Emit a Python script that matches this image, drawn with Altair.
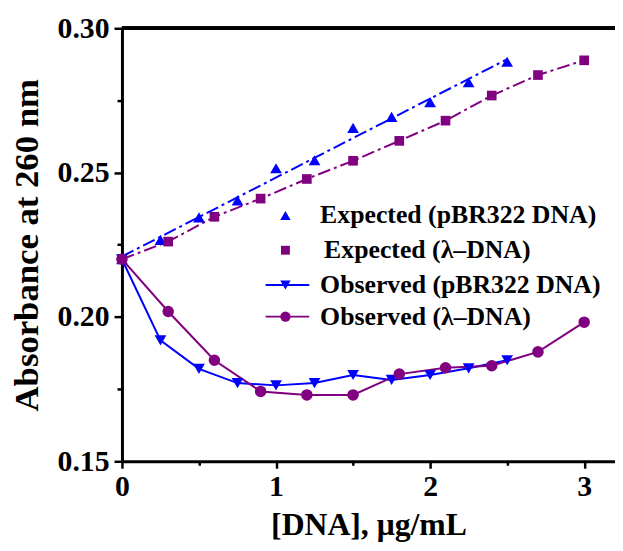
import altair as alt
import pandas as pd

# ---- data ----
exp_pbr_x = [0, 0.25, 0.5, 0.75, 1.0, 1.25, 1.5, 1.75, 2.0, 2.25, 2.5]
exp_pbr_y = [0.220, 0.2267, 0.2345, 0.2404, 0.2515, 0.2543, 0.2655, 0.2693, 0.2744, 0.2813, 0.2884]
exp_lam_x = [0, 0.3, 0.6, 0.9, 1.2, 1.5, 1.8, 2.1, 2.4, 2.7, 3.0]
exp_lam_y = [0.220, 0.2261, 0.2347, 0.2410, 0.2478, 0.2541, 0.2610, 0.2680, 0.2767, 0.2838, 0.2889]
obs_pbr_x = [0, 0.25, 0.5, 0.75, 1.0, 1.25, 1.5, 1.75, 2.0, 2.25, 2.5]
obs_pbr_y = [0.220, 0.1919, 0.1820, 0.1771, 0.1763, 0.1771, 0.1799, 0.1782, 0.1799, 0.1822, 0.1850]
obs_lam_x = [0, 0.3, 0.6, 0.9, 1.2, 1.5, 1.8, 2.1, 2.4, 2.7, 3.0]
obs_lam_y = [0.220, 0.2019, 0.1850, 0.1742, 0.1730, 0.1730, 0.1802, 0.1824, 0.1831, 0.1879, 0.1982]

legend_labels = ["Expected (pBR322 DNA)", "Expected (\u03bb\u2013DNA)",
                 "Observed (pBR322 DNA)", "Observed (\u03bb\u2013DNA)"]
x_ticks = [0, 0.5, 1, 1.5, 2, 2.5, 3]
y_ticks = [0.15, 0.175, 0.2, 0.225, 0.25, 0.275, 0.3]

BLUE = "#0000ff"
PURPLE = "#800080"
FONT = "Liberation Serif"
W, H = 497.6, 437
DASH = [13, 4, 3, 4]

df_ep = pd.DataFrame({"x": exp_pbr_x, "y": exp_pbr_y})
df_el = pd.DataFrame({"x": exp_lam_x, "y": exp_lam_y})
df_op = pd.DataFrame({"x": obs_pbr_x, "y": obs_pbr_y})
df_ol = pd.DataFrame({"x": obs_lam_x, "y": obs_lam_y})

xaxis = alt.Axis(
    values=x_ticks, title="[DNA], \u03bcg/mL",
    labelExpr="abs(datum.value - round(datum.value)) < 0.001 ? format(datum.value, 'd') : ''",
    tickSize={"condition": {"test": "abs(datum.value - round(datum.value)) < 0.001", "value": 7}, "value": 4},
    labelFlush=False, labelOverlap=False, grid=False,
    labelFontSize=30, titleFontSize=32, labelPadding=4, titlePadding=8,
)
yaxis = alt.Axis(
    values=y_ticks, title="Absorbance at 260 nm",
    labelExpr="abs(datum.value*20 - round(datum.value*20)) < 0.001 ? format(datum.value, '.2f') : ''",
    tickSize={"condition": {"test": "abs(datum.value*20 - round(datum.value*20)) < 0.001", "value": 8}, "value": 5},
    labelFlush=False, labelOverlap=False, grid=False,
    labelFontSize=30, titleFontSize=35, labelPadding=5, titlePadding=13,
)
X = alt.X("x:Q", scale=alt.Scale(domain=[0, 3.2], nice=False, zero=False), axis=xaxis)
Y = alt.Y("y:Q", scale=alt.Scale(domain=[0.15, 0.30], nice=False, zero=False), axis=yaxis)

fit_ep = alt.Chart(df_ep).transform_regression("x", "y", extent=[0, 2.5]).mark_line(
    color=BLUE, strokeWidth=2, strokeDash=DASH).encode(x=X, y=Y)
line_el = alt.Chart(df_el).mark_line(color=PURPLE, strokeWidth=2, strokeDash=DASH).encode(x=X, y=Y)
pts_ep = alt.Chart(df_ep).mark_point(shape="triangle-up", filled=True, color=BLUE, size=140, opacity=1).encode(x=X, y=Y)
pts_el = alt.Chart(df_el).mark_point(shape="square", filled=True, color=PURPLE, size=95, opacity=1).encode(x=X, y=Y)
line_op = alt.Chart(df_op).mark_line(color=BLUE, strokeWidth=2).encode(x=X, y=Y)
pts_op = alt.Chart(df_op).mark_point(shape="triangle-down", filled=True, color=BLUE, size=140, opacity=1).encode(x=X, y=Y)
line_ol = alt.Chart(df_ol).mark_line(color=PURPLE, strokeWidth=2).encode(x=X, y=Y)
pts_ol = alt.Chart(df_ol).mark_point(shape="circle", filled=True, color=PURPLE, size=135, opacity=1).encode(x=X, y=Y)

top_border = alt.Chart(df_ep).mark_rule(color="black", strokeWidth=3).encode(
    x=alt.value(0), x2=alt.value(W), y=alt.value(0))

# ---- manual legend ----
leg_rows = [189, 224, 259, 291]
leg_text_x = [200, 204, 200, 200]
leg_sym_x = 165
legend_layers = []
shapes = ["triangle-up", "square", "triangle-down", "circle"]
colors = [BLUE, PURPLE, BLUE, PURPLE]
sizes = [110, 80, 110, 110]
for i, lab in enumerate(legend_labels):
    one = pd.DataFrame({"label": [lab]})
    if i >= 2:
        legend_layers.append(alt.Chart(one).mark_rule(color=colors[i], strokeWidth=2).encode(
            x=alt.value(145), x2=alt.value(189), y=alt.value(leg_rows[i])))
    legend_layers.append(alt.Chart(one).mark_point(shape=shapes[i], filled=True, color=colors[i],
                                                   size=sizes[i], opacity=1).encode(
        x=alt.value(leg_sym_x), y=alt.value(leg_rows[i])))
    legend_layers.append(alt.Chart(one).mark_text(align="left", baseline="middle", font=FONT,
                                                  fontWeight="bold", fontSize=26, color="black").encode(
        x=alt.value(leg_text_x[i]), y=alt.value(leg_rows[i]), text="label:N"))

chart = alt.layer(
    fit_ep, line_el, pts_ep, pts_el, line_op, line_ol, pts_op, pts_ol, top_border, *legend_layers
).properties(
    width=W, height=H,
    autosize=alt.AutoSizeParams(type="none"),
    padding={"left": 115, "top": 18, "right": 0, "bottom": 80},
).configure_view(stroke=None).configure_axis(
    labelFont=FONT, titleFont=FONT, labelFontWeight="bold", titleFontWeight="bold",
    labelColor="black", titleColor="black",
    domainColor="black", domainWidth=3, tickColor="black", tickWidth=2.5,
)

chart.save("out.html", embed_options={"renderer": "svg", "actions": False})
